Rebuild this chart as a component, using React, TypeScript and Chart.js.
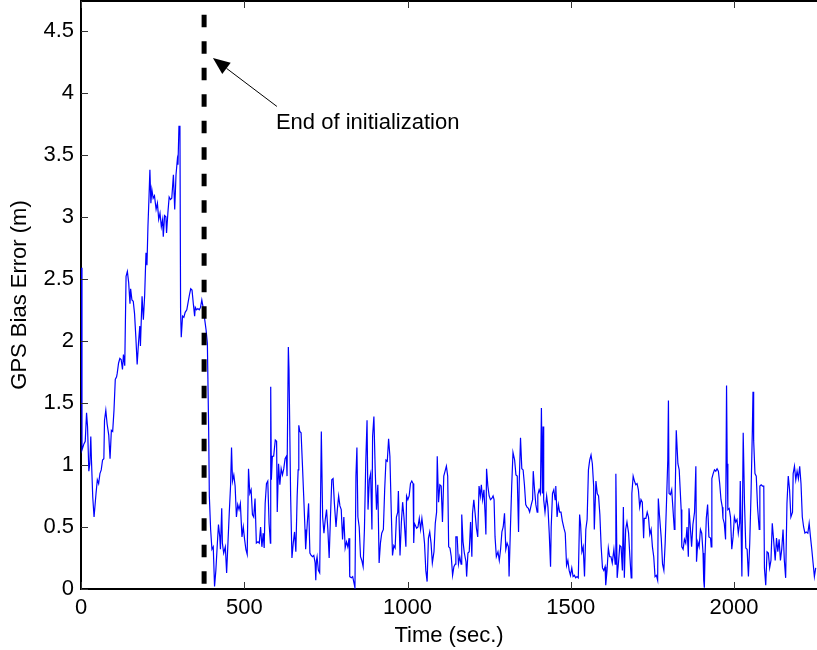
import React, { useEffect, useRef } from "react";
import { Chart, registerables } from "chart.js";

Chart.register(...registerables);

// [time (sec), GPS bias error (m)]
const biasSamples: [number, number][] = [
  [0, 2.59], [3, 1.12], [9, 1.17], [13, 1.19], [17, 1.42], [20, 1.31], [24, 0.95], [27, 1.01], [30, 1.23], [32, 1.04],
  [36, 0.74], [40, 0.58], [46, 0.77], [50, 0.88], [54, 0.85], [58, 0.93], [62, 0.96], [66, 1.04], [70, 1.05], [72, 1.36],
  [76, 1.44], [80, 1.33], [85, 1.24], [89, 1.05], [93, 1.28], [97, 1.27], [101, 1.44], [105, 1.69], [109, 1.71], [111, 1.74],
  [115, 1.82], [119, 1.86], [123, 1.85], [127, 1.77], [130, 1.89], [134, 1.8], [138, 2.52], [142, 2.56], [146, 2.47], [150, 2.3],
  [152, 2.42], [156, 2.33], [160, 2.32], [164, 2.22], [168, 2.03], [172, 1.81], [176, 1.98], [180, 2.12], [182, 1.96], [187, 2.36],
  [191, 2.17], [195, 2.37], [199, 2.71], [202, 2.61], [205, 2.92], [208, 3.14], [211, 3.38], [214, 3.11], [217, 3.22], [221, 3.15],
  [225, 3.17], [230, 3.06], [234, 3.11], [238, 2.98], [242, 3.03], [246, 2.92], [250, 2.98], [252, 2.84], [256, 3.01], [260, 3.0],
  [262, 2.87], [266, 3.03], [270, 3.16], [274, 3.14], [278, 3.15], [283, 3.34], [287, 3.06], [291, 3.34], [295, 3.46], [297, 3.42],
  [300, 3.73], [303, 3.73], [305, 2.25], [307, 2.03], [311, 2.2], [315, 2.19], [319, 2.23], [324, 2.25], [328, 2.31], [332, 2.37],
  [336, 2.42], [340, 2.41], [344, 2.3], [348, 2.2], [350, 2.27], [354, 2.25], [358, 2.26], [362, 2.25], [366, 2.27], [370, 2.33],
  [374, 2.27], [379, 2.17], [383, 2.09], [387, 1.98],
  [391, 1.28], [393, 0.75], [397, 0.48], [401, 0.32], [405, 0.34], [409, 0.02], [413, 0.15], [417, 0.34], [421, 0.52], [425, 0.42],
  [427, 0.32], [431, 0.65], [433, 0.37], [437, 0.29], [442, 0.34], [446, 0.13], [450, 0.37], [454, 0.61], [458, 0.83], [461, 1.14],
  [464, 0.87], [468, 0.92], [472, 0.83], [476, 0.58], [480, 0.68], [484, 0.64], [488, 0.69], [493, 0.42], [497, 0.5], [501, 0.4],
  [505, 0.32], [509, 0.28], [513, 0.97], [517, 0.77], [521, 0.8], [525, 0.6], [529, 0.58], [533, 0.73], [537, 0.37], [542, 0.38],
  [546, 0.37], [550, 0.5], [554, 0.34], [558, 0.45], [561, 0.33], [564, 0.69], [568, 0.85], [572, 0.87], [576, 0.53], [580, 0.37],
  [581, 1.63], [583, 0.88], [586, 1.07], [590, 1.07], [595, 1.2], [599, 1.19], [601, 0.62], [605, 1.01], [609, 0.84], [613, 0.97],
  [617, 0.92], [621, 0.97], [625, 1.05], [629, 1.07], [631, 0.91], [635, 1.95], [637, 1.77], [642, 0.75], [646, 0.25], [650, 0.37],
  [654, 0.46], [658, 0.3], [662, 0.75], [665, 0.96], [667, 1.32], [670, 1.27], [674, 1.26], [678, 1.01], [682, 0.75], [686, 0.48],
  [688, 0.32], [693, 0.53], [697, 0.69], [701, 0.29], [705, 0.27], [709, 0.26], [713, 0.27], [717, 0.21], [719, 0.07], [721, 0.23],
  [723, 0.26], [727, 0.15], [731, 0.13],
  [736, 1.27], [740, 0.58], [744, 0.45], [748, 0.56], [752, 0.64], [756, 0.48], [760, 0.25], [764, 0.58], [768, 0.88], [772, 0.89],
  [776, 0.69], [781, 0.5], [785, 0.64], [789, 0.75], [793, 0.67], [797, 0.64], [801, 0.4], [805, 0.58], [809, 0.33], [813, 0.38],
  [817, 0.34], [821, 0.41], [823, 0.1], [828, 0.09], [832, 0.1], [836, 0.05], [839, 0.01], [842, 0.91], [845, 1.14], [848, 0.58],
  [852, 0.5], [856, 0.26], [860, 0.23], [864, 0.18], [868, 0.48], [872, 1.01], [876, 1.36], [879, 0.64], [883, 0.88], [887, 0.93],
  [891, 0.48], [893, 1.23], [897, 1.39], [901, 0.96], [905, 0.64], [909, 0.84], [913, 0.21], [917, 0.37], [921, 0.45], [926, 0.48],
  [930, 0.8], [934, 1.04], [938, 1.03], [942, 1.21], [946, 1.07], [950, 0.64], [954, 0.27], [958, 0.35], [962, 0.33], [966, 0.58],
  [970, 0.62], [972, 0.79], [977, 0.27], [981, 0.53], [985, 0.7], [989, 0.58], [993, 0.42], [995, 0.34], [997, 0.75], [1001, 0.72],
  [1005, 0.75], [1009, 0.85], [1013, 0.87], [1017, 0.85], [1019, 0.37], [1021, 0.53], [1028, 0.49], [1032, 0.5], [1036, 0.57], [1040, 0.48],
  [1044, 0.57], [1048, 0.48], [1052, 0.37], [1056, 0.15], [1060, 0.06], [1064, 0.41], [1068, 0.46], [1072, 0.37], [1076, 0.21], [1081, 0.3],
  [1085, 0.53], [1089, 0.62], [1091, 1.07], [1095, 0.7],
  [1099, 0.84], [1103, 0.83], [1107, 0.54], [1111, 0.91], [1115, 0.95], [1119, 0.99], [1123, 0.91], [1126, 0.34], [1130, 0.33], [1134, 0.26],
  [1138, 0.11], [1142, 0.18], [1146, 0.2], [1148, 0.42], [1152, 0.42], [1156, 0.2], [1160, 0.26], [1164, 0.2], [1166, 0.6], [1170, 0.38],
  [1174, 0.29], [1179, 0.22], [1181, 0.1], [1185, 0.29], [1189, 0.3], [1193, 0.54], [1197, 0.26], [1199, 0.61], [1203, 0.72], [1207, 0.61],
  [1211, 0.49], [1215, 0.42], [1219, 0.83], [1223, 0.75], [1226, 0.84], [1230, 0.72], [1234, 0.8], [1238, 0.58], [1240, 0.44], [1242, 0.97],
  [1246, 0.83], [1250, 0.75], [1254, 0.72], [1258, 0.73], [1262, 0.75], [1265, 0.72], [1268, 0.42], [1272, 0.26], [1277, 0.3], [1281, 0.23],
  [1285, 0.32], [1289, 0.46], [1293, 0.5], [1297, 0.61], [1301, 0.32], [1305, 0.37], [1309, 0.34], [1311, 0.1], [1315, 0.48], [1319, 0.83],
  [1323, 1.1], [1328, 1.04], [1332, 0.92], [1336, 0.91], [1340, 0.46], [1342, 0.85], [1346, 1.22], [1350, 0.97], [1354, 0.96], [1358, 0.84],
  [1362, 0.68], [1366, 0.66], [1370, 0.65], [1374, 0.62], [1379, 0.68], [1383, 0.72], [1385, 0.95], [1389, 0.8], [1393, 0.68], [1397, 0.62],
  [1399, 0.76], [1403, 0.8], [1407, 0.77], [1410, 1.46], [1413, 0.77], [1415, 1.31], [1417, 0.72], [1421, 0.62], [1426, 0.75], [1430, 0.66],
  [1434, 0.45], [1438, 0.18], [1440, 0.5], [1444, 0.77], [1448, 0.8], [1452, 0.72], [1454, 0.83], [1458, 0.58], [1462, 0.68],
  [1466, 0.62], [1470, 0.62], [1474, 0.55], [1479, 0.49], [1483, 0.45], [1487, 0.19], [1491, 0.23], [1495, 0.15], [1499, 0.11], [1503, 0.17],
  [1507, 0.1], [1511, 0.11], [1515, 0.09], [1519, 0.1], [1523, 0.09], [1527, 0.6], [1530, 0.52], [1534, 0.3], [1538, 0.34], [1542, 0.1],
  [1546, 0.48], [1550, 0.56], [1554, 0.96], [1558, 1.04], [1562, 1.08], [1566, 1.01], [1570, 0.83], [1572, 0.48], [1577, 0.87], [1581, 0.77],
  [1585, 0.75], [1589, 0.6], [1593, 0.34], [1597, 0.17], [1601, 0.15], [1605, 0.18], [1607, 0.03], [1611, 0.15], [1615, 0.33], [1619, 0.26],
  [1623, 0.26], [1627, 0.21], [1632, 0.32], [1636, 0.2], [1638, 0.93], [1642, 0.09], [1646, 0.21], [1650, 0.35], [1654, 0.34], [1658, 0.15],
  [1661, 0.66], [1664, 0.09], [1668, 0.48], [1672, 0.54], [1677, 0.45], [1681, 0.26], [1685, 0.09], [1687, 0.77], [1691, 0.91], [1695, 0.87],
  [1699, 0.84], [1703, 0.85], [1707, 0.8], [1711, 0.66], [1715, 0.72], [1719, 0.7], [1723, 0.41], [1725, 0.57], [1730, 0.57], [1734, 0.62],
  [1738, 0.58], [1742, 0.44], [1746, 0.48], [1750, 0.34], [1754, 0.26], [1758, 0.1], [1762, 0.11], [1766, 0.07], [1768, 0.73], [1772, 0.58],
  [1777, 0.41], [1781, 0.2], [1785, 0.15], [1789, 0.37], [1793, 0.69], [1797, 1.04], [1799, 1.52], [1801, 0.77], [1805, 0.76], [1809, 0.8],
  [1813, 0.64], [1817, 0.48], [1819, 0.65], [1823, 1.28], [1828, 1.01], [1832, 0.96],
  [1838, 0.64], [1840, 0.34], [1844, 0.32], [1848, 0.4], [1852, 0.37], [1856, 0.5], [1860, 0.26], [1862, 0.65], [1866, 0.5], [1870, 0.34],
  [1874, 0.52], [1879, 0.62], [1883, 0.99], [1885, 0.22], [1889, 0.38], [1893, 0.34], [1897, 0.48], [1901, 0.45], [1905, 0.29], [1907, 0.07],
  [1909, 0.01], [1911, 0.26], [1915, 0.57], [1919, 0.68], [1923, 0.42], [1928, 0.41], [1930, 0.34], [1932, 0.89], [1936, 0.93], [1940, 0.96],
  [1944, 0.95], [1948, 0.97], [1952, 0.95], [1956, 0.85], [1960, 0.72], [1964, 0.66], [1966, 0.57], [1970, 0.53], [1974, 0.4], [1977, 1.64],
  [1979, 1.01], [1981, 0.64], [1985, 0.65], [1989, 0.58], [1993, 0.32], [1997, 0.42], [2001, 0.58], [2005, 0.54], [2009, 0.56], [2013, 0.45],
  [2017, 0.53], [2019, 0.87], [2024, 0.1], [2028, 1.26], [2032, 0.69], [2036, 0.33], [2040, 0.32], [2044, 0.1], [2048, 0.37], [2052, 0.77],
  [2056, 1.28], [2058, 1.59], [2060, 1.2], [2064, 0.93], [2068, 0.91], [2072, 0.66], [2077, 0.48], [2079, 0.83], [2083, 0.84], [2087, 0.83],
  [2091, 0.83], [2093, 0.17], [2097, 0.03], [2101, 0.3], [2105, 0.29], [2109, 0.17], [2113, 0.23], [2117, 0.53], [2121, 0.4], [2126, 0.23],
  [2130, 0.41], [2134, 0.3], [2138, 0.4], [2142, 0.23], [2146, 0.32], [2150, 0.48], [2154, 0.23], [2158, 0.09], [2162, 0.69], [2166, 0.91],
  [2170, 0.8], [2174, 0.58], [2179, 0.62], [2181, 0.93], [2185, 0.99], [2189, 0.88], [2193, 0.95], [2197, 0.89], [2201, 0.99], [2205, 0.85],
  [2209, 0.58], [2213, 0.5], [2217, 0.45], [2221, 0.46], [2226, 0.45], [2230, 0.53], [2234, 0.42], [2238, 0.32], [2242, 0.21], [2246, 0.1],
  [2250, 0.17],
];

const timeSec = biasSamples.map((s) => s[0]);
const biasErrorM = biasSamples.map((s) => s[1]);

const xTickValues = [0, 500, 1000, 1500, 2000];
const xTickLabels = ["0", "500", "1000", "1500", "2000"];
const yTickValues = [0, 0.5, 1, 1.5, 2, 2.5, 3, 3.5, 4, 4.5];
const yTickLabels = ["0", "0.5", "1", "1.5", "2", "2.5", "3", "3.5", "4", "4.5"];
const xRange = [0, 2254];
const yRange = [0, 4.74];

// vertical marker for end of initialization
const initEndTime = 377;
const initMarkerSpan = [4.63, 0];

// annotation (data coordinates)
const annotationLabel = "End of initialization";
const annotationTextAt = [597, 3.71];
const arrowTail = [600, 3.89];
const arrowTip = [404, 4.28];

const FONT = '"Liberation Sans", Arial, Helvetica, sans-serif';

const overlayPlugin = {
  id: "overlay",
  afterDraw(chart: any) {
    const { ctx, chartArea: ca, scales } = chart;
    const x = scales.x;
    const y = scales.y;
    ctx.save();
    // top box edge
    ctx.strokeStyle = "#000";
    ctx.lineWidth = 2;
    ctx.beginPath();
    ctx.moveTo(ca.left, ca.top);
    ctx.lineTo(ca.right, ca.top);
    ctx.stroke();

    // inward ticks
    ctx.strokeStyle = "#333";
    ctx.lineWidth = 1;
    const tl = 7;
    xTickValues.forEach((v) => {
      const px = Math.round(x.getPixelForValue(v)) + 0.5;
      ctx.beginPath();
      ctx.moveTo(px, ca.bottom);
      ctx.lineTo(px, ca.bottom - tl);
      ctx.moveTo(px, ca.top);
      ctx.lineTo(px, ca.top + tl);
      ctx.stroke();
    });
    yTickValues.forEach((v) => {
      const py = Math.round(y.getPixelForValue(v)) + 0.5;
      ctx.beginPath();
      ctx.moveTo(ca.left, py);
      ctx.lineTo(ca.left + tl, py);
      ctx.stroke();
    });

    // arrow
    const tx = x.getPixelForValue(arrowTail[0]);
    const ty = y.getPixelForValue(arrowTail[1]);
    const hx = x.getPixelForValue(arrowTip[0]);
    const hy = y.getPixelForValue(arrowTip[1]);
    const ang = Math.atan2(ty - hy, tx - hx);
    const headLen = 17;
    const halfW = 7;
    const bx = hx + Math.cos(ang) * headLen;
    const by = hy + Math.sin(ang) * headLen;
    ctx.strokeStyle = "#000";
    ctx.fillStyle = "#000";
    ctx.lineWidth = 1;
    ctx.beginPath();
    ctx.moveTo(tx, ty);
    ctx.lineTo(bx, by);
    ctx.stroke();
    ctx.beginPath();
    ctx.moveTo(hx, hy);
    ctx.lineTo(bx - Math.sin(ang) * halfW, by + Math.cos(ang) * halfW);
    ctx.lineTo(bx + Math.sin(ang) * halfW, by - Math.cos(ang) * halfW);
    ctx.closePath();
    ctx.fill();

    // label
    ctx.font = `22px ${FONT}`;
    ctx.textAlign = "left";
    ctx.textBaseline = "alphabetic";
    ctx.fillText(
      annotationLabel,
      x.getPixelForValue(annotationTextAt[0]),
      y.getPixelForValue(annotationTextAt[1])
    );
    ctx.restore();
  },
};

export default function App() {
  const canvasRef = useRef<HTMLCanvasElement | null>(null);

  useEffect(() => {
    const canvas = canvasRef.current;
    if (!canvas) return;
    const chart = new Chart(canvas, {
      type: "line",
      data: {
        datasets: [
          {
            label: "GPS bias error",
            data: timeSec.map((t, i) => ({ x: t, y: biasErrorM[i] })),
            borderColor: "#0000ff",
            borderWidth: 1.2,
            pointRadius: 0,
            tension: 0,
            fill: false,
            order: 1,
          },
          {
            label: "End of initialization",
            data: initMarkerSpan.map((v) => ({ x: initEndTime, y: v })),
            borderColor: "#000",
            borderWidth: 5,
            borderDash: [12.5, 14],
            pointRadius: 0,
            fill: false,
            order: 0,
          },
        ],
      },
      options: {
        responsive: false,
        animation: false,
        devicePixelRatio: 1,
        layout: { padding: { top: 1, right: 0, bottom: 0, left: 0 } },
        plugins: { legend: { display: false }, tooltip: { enabled: false } },
        scales: {
          x: {
            type: "linear",
            min: xRange[0],
            max: xRange[1],
            afterBuildTicks: (s: any) => {
              s.ticks = xTickValues.map((v) => ({ value: v }));
            },
            afterFit: (s: any) => {
              s.height = 61;
              s.paddingLeft = 0;
              s.paddingRight = 0;
            },
            grid: { display: false, drawTicks: false },
            border: { display: true, color: "#000", width: 2 },
            ticks: {
              color: "#000",
              font: { family: FONT, size: 22 },
              padding: 6,
              maxRotation: 0,
              autoSkip: false,
              callback: (_v: any, i: number) => xTickLabels[i],
            },
            title: {
              display: true,
              text: "Time (sec.)",
              color: "#000",
              font: { family: FONT, size: 22 },
              padding: { top: 0, bottom: 1 },
            },
          },
          y: {
            type: "linear",
            min: yRange[0],
            max: yRange[1],
            afterBuildTicks: (s: any) => {
              s.ticks = yTickValues.map((v) => ({ value: v }));
            },
            afterFit: (s: any) => {
              s.width = 81;
              s.paddingTop = 0;
              s.paddingBottom = 0;
            },
            grid: { display: false, drawTicks: false },
            border: { display: true, color: "#000", width: 2 },
            ticks: {
              color: "#000",
              font: { family: FONT, size: 22 },
              padding: 7,
              autoSkip: false,
              callback: (_v: any, i: number) => yTickLabels[i],
            },
            title: {
              display: true,
              text: "GPS Bias Error (m)",
              color: "#000",
              font: { family: FONT, size: 22 },
              padding: { top: 7, bottom: 0 },
            },
          },
        },
      },
      plugins: [overlayPlugin],
    } as any);
    return () => chart.destroy();
  }, []);

  return (
    <div style={{ position: "absolute", left: 0, top: 0, width: 817, height: 650, overflow: "hidden", background: "#fff" }}>
      <canvas ref={canvasRef} width={817} height={650} style={{ display: "block" }} />
    </div>
  );
}
